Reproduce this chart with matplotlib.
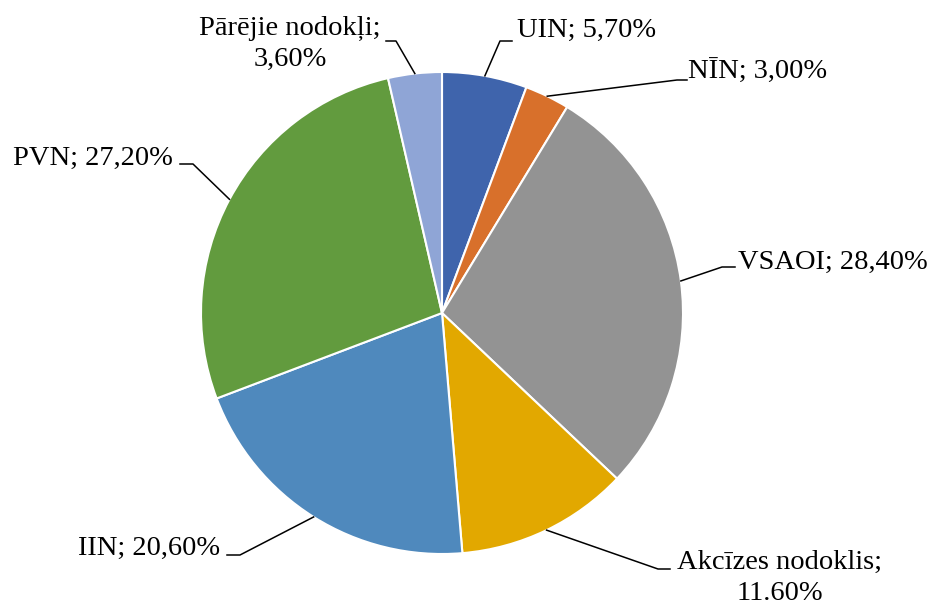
import numpy as np
import matplotlib
matplotlib.use("Agg")
import matplotlib.pyplot as plt

# data
names = ["UIN", "NĪN", "VSAOI", "Akcīzes nodoklis", "IIN", "PVN", "Pārējie nodokļi"]
shares = [5.7, 3.0, 28.4, 11.6, 20.6, 27.2, 3.6]
label_texts = ["UIN; 5,70%", "NĪN; 3,00%", "VSAOI; 28,40%",
               "Akcīzes nodoklis;\n11.60%", "IIN; 20,60%", "PVN; 27,20%",
               "Pārējie nodokļi;\n3,60%"]
colors = ["#3f64ac", "#d8702b", "#939393", "#e2a800", "#4f89bd", "#629b3e", "#8fa5d6"]

# layout in image pixels (pie centre and radius), converted to data units below
W, H = 934, 605
cx, cy, R = 442, 313, 241

# label placement: text anchor (px), alignment, leader elbow and end (px)
text_pos = [(517, 30), (688, 72), (738, 262), (780, 578), (220, 548), (173, 158), (290, 44)]
text_ha = ["left", "left", "left", "center", "right", "right", "center"]
elbow = [(500, 41), (677, 80), (722, 267), (658, 569), (240, 555), (193, 164), (396, 41)]
tail = [(512, 41), (687, 80), (735, 267), (670, 569), (227, 555), (180, 164), (386, 41)]


def to_data(p):
    return ((p[0] - cx) / R, (cy - p[1]) / R)


plt.rcParams['font.family'] = ['Liberation Serif', 'DejaVu Serif']

fig = plt.figure(figsize=(W / 100, H / 100), dpi=100)
ax = fig.add_axes([0, 0, 1, 1])
ax.pie(shares, colors=colors, startangle=90, counterclock=False, radius=1,
       wedgeprops=dict(edgecolor="white", linewidth=1.5))
ax.set_xlim(-cx / R, (W - cx) / R)
ax.set_ylim(-(H - cy) / R, cy / R)
ax.set_aspect("equal")
ax.axis("off")

total = sum(shares)
cum = 0
for i, v in enumerate(shares):
    mid = 90 - (cum + v / 2) / total * 360
    cum += v
    ex, ey = np.cos(np.radians(mid)), np.sin(np.radians(mid))
    bx, by = to_data(elbow[i])
    tx, ty = to_data(tail[i])
    ax.plot([ex, bx, tx], [ey, by, ty], color="black", lw=1.1)
    px, py = to_data(text_pos[i])
    ax.text(px, py, label_texts[i], ha=text_ha[i], va="center", fontsize=20.5,
            multialignment="center", linespacing=1.3)

fig.savefig("out.png", dpi=100, facecolor="white")
